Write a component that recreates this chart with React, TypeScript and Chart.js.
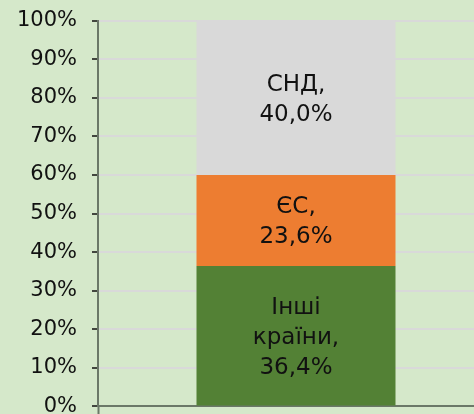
import React, { useEffect, useRef } from "react";
import { Chart, registerables } from "chart.js";

Chart.register(...registerables);

const categories = [""];
const seriesNames = ["Інші країни", "ЄС", "СНД"];
const seriesValues = [[36.4], [23.6], [40.0]];
const seriesColors = ["#538135", "#ed7d31", "#d9d9d9"];
const dataLabels = [
  ["Інші", "країни,", "36,4%"],
  ["ЄС,", "23,6%"],
  ["СНД,", "40,0%"],
];
const yTicks = [0, 10, 20, 30, 40, 50, 60, 70, 80, 90, 100];

const FONT = "'DejaVu Sans', Verdana, sans-serif";
const TICK_SIZE = 21;
const TICK_PAD = 15;
// vertical overhang Chart.js reserves for the y labels: half line height + padding
const OVERHANG = (TICK_SIZE * 1.2) / 2 + TICK_PAD;
const AREA_TOP = 20.6;
const AREA_BOTTOM = 406.8;

const labelPlugin = {
  id: "segLabels",
  afterDatasetsDraw(chart: any) {
    const ctx = chart.ctx;
    ctx.save();
    ctx.font = `23px ${FONT}`;
    ctx.fillStyle = "#111111";
    ctx.textAlign = "center";
    ctx.textBaseline = "middle";
    const lh = 30;
    chart.data.datasets.forEach((ds: any, i: number) => {
      const meta = chart.getDatasetMeta(i);
      meta.data.forEach((el: any) => {
        const cy = (el.y + el.base) / 2 + 2;
        const lines = dataLabels[i];
        const start = cy - ((lines.length - 1) * lh) / 2;
        lines.forEach((t, k) => ctx.fillText(t, el.x, start + k * lh));
      });
    });
    ctx.restore();
  },
};

export default function App() {
  const ref = useRef<HTMLCanvasElement>(null);
  const shift = Math.round(OVERHANG - AREA_TOP);
  const canvasH = Math.round(AREA_BOTTOM + shift + OVERHANG);
  useEffect(() => {
    const chart = new Chart(ref.current!, {
      type: "bar",
      data: {
        labels: categories,
        datasets: seriesNames.map((n, i) => ({
          label: n,
          data: seriesValues[i],
          backgroundColor: seriesColors[i],
          borderWidth: 0,
          barPercentage: 1,
          categoryPercentage: 0.5025,
        })),
      },
      options: {
        responsive: false,
        animation: false,
        layout: { padding: 0 },
        plugins: { legend: { display: false }, tooltip: { enabled: false }, title: { display: false } },
        scales: {
          x: {
            stacked: true,
            offset: true,
            grid: {
              display: true,
              drawOnChartArea: false,
              drawTicks: true,
              tickLength: 8,
              offset: true,
              tickColor: "#6b7868",
              tickWidth: 2,
            },
            border: { color: "#6b7868", width: 2 },
            ticks: { display: false },
            afterFit: (s: any) => {
              s.height = 18;
            },
          },
          y: {
            stacked: true,
            min: 0,
            max: 100,
            afterBuildTicks: (s: any) => {
              s.ticks = yTicks.map((v) => ({ value: v }));
            },
            ticks: {
              callback: (v: any) => v + "%",
              color: "#111111",
              font: { family: FONT, size: TICK_SIZE },
              padding: TICK_PAD,
            },
            grid: {
              color: "#d9d9d9",
              lineWidth: 2,
              tickColor: "#111111",
              tickLength: 6,
              tickWidth: 1.5,
            },
            border: { color: "#6b7868", width: 2 },
            afterFit: (s: any) => {
              s.width = 98;
            },
          },
        },
      },
      plugins: [labelPlugin],
    });
    return () => chart.destroy();
  }, []);
  return (
    <div
      style={{
        position: "absolute",
        left: 0,
        top: 0,
        width: 474,
        height: 414,
        overflow: "hidden",
        background: "#d5e8ca",
      }}
    >
      <canvas
        ref={ref}
        width={494}
        height={canvasH}
        style={{ display: "block", marginTop: -shift }}
      />
    </div>
  );
}
